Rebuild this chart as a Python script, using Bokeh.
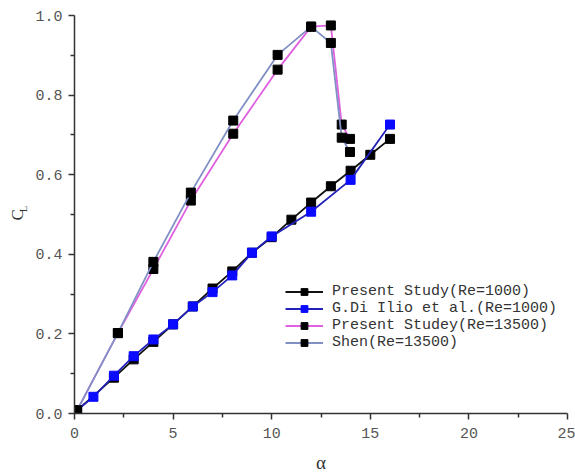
from bokeh.plotting import figure
from bokeh.layouts import row
from bokeh.models import Range1d, Legend, LegendItem, Label, FixedTicker
from bokeh.embed import file_html
from bokeh.resources import INLINE
import math

# ---- data ----
alpha_ps1000 = [0.13, 2, 3, 4, 5, 6, 7, 8, 9, 10, 11, 12, 13, 14, 15, 16]
cl_ps1000 = [0.008, 0.09, 0.136, 0.18, 0.224, 0.269, 0.314, 0.357, 0.404, 0.443,
             0.487, 0.53, 0.571, 0.61, 0.65, 0.69]

alpha_dii1000 = [0.13, 0.96, 2, 3, 4, 5, 6, 7, 8, 9, 10, 12, 14, 16]
cl_dii1000 = [0.008, 0.042, 0.095, 0.144, 0.186, 0.224, 0.269, 0.305, 0.347, 0.404,
              0.445, 0.507, 0.587, 0.726]

alpha_ps13500 = [0.13, 2.2, 4.0, 5.9, 8.05, 10.3, 12.0, 13.0, 13.55, 13.97]
cl_ps13500 = [0.008, 0.202, 0.363, 0.535, 0.703, 0.864, 0.972, 0.975, 0.726, 0.69]

alpha_shen = [0.13, 2.2, 4.0, 5.9, 8.05, 10.3, 12.0, 13.0, 13.55, 13.97]
cl_shen = [0.008, 0.202, 0.381, 0.555, 0.736, 0.901, 0.972, 0.931, 0.693, 0.657]

labels = ["Present Study(Re=1000)", "G.Di Ilio et al.(Re=1000)",
          "Present Studey(Re=13500)", "Shen(Re=13500)"]
x_ticks = [0, 5, 10, 15, 20, 25]
y_ticks = [0.0, 0.2, 0.4, 0.6, 0.8, 1.0]

# narrow panel holding the y-axis title C_L
lab = figure(width=32, height=475, output_backend="svg", toolbar_location=None,
             x_axis_type=None, y_axis_type=None,
             x_range=Range1d(0, 32), y_range=Range1d(0, 475),
             min_border_left=0, min_border_right=0, min_border_top=0, min_border_bottom=0)
lab.grid.visible = False
lab.outline_line_color = None
lab.add_layout(Label(x=17, y=237, text="C", angle=math.pi / 2,
                     text_font="Liberation Serif", text_font_size="17px",
                     text_color="#333333", text_align="center", text_baseline="middle"))
lab.add_layout(Label(x=23, y=244, text="L", angle=math.pi / 2,
                     text_font="Liberation Serif", text_font_size="10px",
                     text_color="#333333", text_align="center", text_baseline="middle"))

p = figure(width=543, height=475, output_backend="svg", toolbar_location=None,
           x_range=Range1d(0, 25), y_range=Range1d(0, 1.0),
           min_border_left=42, min_border_right=8, min_border_top=15, min_border_bottom=62)
p.xgrid.visible = False
p.ygrid.visible = False
p.outline_line_color = None
p.background_fill_color = "white"
p.border_fill_color = "white"

series = [
    (alpha_ps1000, cl_ps1000, "#111111", "#000000"),
    (alpha_dii1000, cl_dii1000, "#2222bb", "#0a0aff"),
    (alpha_ps13500, cl_ps13500, "#e060e0", "#000000"),
    (alpha_shen, cl_shen, "#8090c4", "#000000"),
]
items = []
for (xs, ys, lc, mc), lb in zip(series, labels):
    r1 = p.line(xs, ys, line_color=lc, line_width=1.8)
    r2 = p.scatter(xs, ys, marker="square", size=9, fill_color=mc, line_color=mc)
    items.append(LegendItem(label=lb, renderers=[r1, r2]))

legend = Legend(items=items, location=(211, 62), glyph_width=38, glyph_height=17,
                label_height=17, spacing=0, padding=0, margin=0,
                border_line_color=None, background_fill_alpha=0,
                label_text_font="Liberation Mono", label_text_font_size="15px",
                label_text_color="#333333", label_standoff=9)
p.add_layout(legend, "center")

font = "Liberation Mono"
for ax in (p.xaxis[0], p.yaxis[0]):
    ax.axis_line_color = "#333333"
    ax.axis_line_width = 1.5
    ax.major_tick_line_color = "#333333"
    ax.minor_tick_line_color = "#333333"
    ax.major_tick_line_width = 1.5
    ax.minor_tick_line_width = 1.5
    ax.major_tick_in = 0
    ax.minor_tick_in = 0
    ax.major_label_text_font = font
    ax.major_label_text_font_size = "15px"
    ax.major_label_text_color = "#555555"

p.xaxis[0].ticker = FixedTicker(ticks=x_ticks, minor_ticks=[2.5, 7.5, 12.5, 17.5, 22.5])
p.yaxis[0].ticker = FixedTicker(ticks=y_ticks, minor_ticks=[0.1, 0.3, 0.5, 0.7, 0.9])
p.xaxis[0].major_tick_out = 6
p.xaxis[0].minor_tick_out = 4
p.yaxis[0].major_tick_out = 6
p.yaxis[0].minor_tick_out = 4
p.xaxis[0].major_label_standoff = 8
p.yaxis[0].major_label_standoff = 6
p.yaxis[0].major_label_overrides = {v: "%.1f" % v for v in y_ticks}

p.xaxis[0].axis_label = "α"
p.xaxis[0].axis_label_text_font = "Liberation Serif"
p.xaxis[0].axis_label_text_font_size = "19px"
p.xaxis[0].axis_label_text_font_style = "normal"
p.xaxis[0].axis_label_text_color = "#333333"
p.xaxis[0].axis_label_standoff = 11

layout = row(lab, p, spacing=0)
open("out.html", "w").write(file_html(layout, INLINE))
